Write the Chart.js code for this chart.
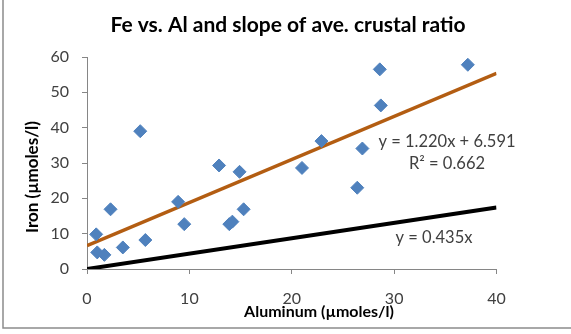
<!DOCTYPE html>
<html>
<head>
<meta charset="utf-8">
<script src="https://cdn.jsdelivr.net/npm/chart.js@4"></script>
<style>
  html, body { margin: 0; padding: 0; background: #fff; }
  #wrap { width: 571px; height: 334px; }
</style>
</head>
<body>
<div id="wrap"><canvas id="chart" width="571" height="334"></canvas></div>
<script>
// measured Al / Fe pairs (µmoles/l)
const aluminum = [0.9, 1.0, 1.7, 2.3, 3.5, 5.2, 5.7, 8.9, 9.5, 12.9, 13.9, 14.2, 14.9, 15.3, 21.0, 22.9, 26.4, 26.9, 28.6, 28.7, 37.2]
const iron = [9.8, 4.7, 4.0, 16.9, 6.1, 39.0, 8.2, 19.0, 12.7, 29.3, 12.7, 13.4, 27.5, 16.9, 28.6, 36.2, 23.0, 34.1, 56.5, 46.3, 57.8]

// linear fit and crustal ratio
const fitSlope = 1.22
const fitIntercept = 6.591
const crustalSlope = 0.435
const lineRange = [0, 40]

const xTicks = [0, 10, 20, 30, 40]
const yTicks = [0, 10, 20, 30, 40, 50, 60]

const FONT = "Lato"
const GREY = "#868686"

const scatter = aluminum.map((a, i) => ({ x: a, y: iron[i] }))
const fitLine = lineRange.map(x => ({ x: x, y: fitSlope * x + fitIntercept }))
const crustLine = lineRange.map(x => ({ x: x, y: crustalSlope * x }))

const textPlugin = {
  id: "texts",
  beforeDraw(chart) {
    const ctx = chart.ctx
    ctx.save()
    ctx.strokeStyle = "#8c8c8c"
    ctx.lineWidth = 1.5
    ctx.beginPath()
    ctx.moveTo(3, 0)
    ctx.lineTo(3, 328)
    ctx.lineTo(571, 328)
    ctx.stroke()
    ctx.restore()
  },
  afterDraw(chart) {
    const ctx = chart.ctx
    ctx.save()
    ctx.fillStyle = "#000"
    ctx.textAlign = "center"
    ctx.textBaseline = "middle"
    ctx.font = "bold 21px " + FONT
    ctx.fillText("Fe vs. Al and slope of ave. crustal ratio", 288, 25)

    ctx.font = "bold 16px " + FONT
    ctx.fillText("Aluminum (µmoles/l)", 319, 312)

    ctx.save()
    ctx.translate(33, 177)
    ctx.rotate(-Math.PI / 2)
    ctx.font = "bold 17px " + FONT
    ctx.fillText("Iron (µmoles/l)", 0, 0)
    ctx.restore()

    ctx.fillStyle = "#404040"
    ctx.font = "16.5px " + FONT
    ctx.fillText("y = 1.220x + 6.591", 447, 142)
    ctx.fillText("R² = 0.662", 447, 164)
    ctx.fillText("y = 0.435x", 434, 238)
    ctx.restore()
  },
}

new Chart(document.getElementById("chart"), {
  type: "scatter",
  data: {
    datasets: [
      {
        label: "Fe",
        data: scatter,
        pointStyle: "rectRot",
        pointRadius: 6.5,
        pointBorderWidth: 1,
        backgroundColor: "#4F81BD",
        borderColor: "#4F81BD",
        order: 1,
      },
      {
        label: "fit",
        type: "line",
        data: fitLine,
        borderColor: "#B35D12",
        borderWidth: 3.5,
        pointRadius: 0,
        order: 2,
      },
      {
        label: "crustal",
        type: "line",
        data: crustLine,
        borderColor: "#000",
        borderWidth: 4,
        pointRadius: 0,
        order: 3,
      },
    ],
  },
  options: {
    responsive: false,
    animation: false,
    events: [],
    layout: { padding: { left: 47, right: 74.5, top: 57, bottom: 25 } },
    plugins: {
      legend: { display: false },
      tooltip: { enabled: false },
    },
    scales: {
      x: {
        type: "linear",
        min: 0,
        max: 40,
        afterFit: s => { s.height = 40 },
        afterBuildTicks: s => { s.ticks = xTicks.map(v => ({ value: v })) },
        ticks: { color: "#404040", font: { family: FONT, size: 16 }, padding: 15 },
        grid: { drawOnChartArea: false, tickLength: 5, color: GREY },
        border: { color: GREY, width: 1 },
      },
      y: {
        type: "linear",
        min: 0,
        max: 60,
        afterFit: s => { s.width = 40 },
        afterBuildTicks: s => { s.ticks = yTicks.map(v => ({ value: v })) },
        ticks: { color: "#404040", font: { family: FONT, size: 16 }, padding: 13 },
        grid: { drawOnChartArea: false, tickLength: 5, color: GREY },
        border: { color: GREY, width: 1 },
      },
    },
  },
  plugins: [textPlugin],
})
</script>
</body>
</html>
